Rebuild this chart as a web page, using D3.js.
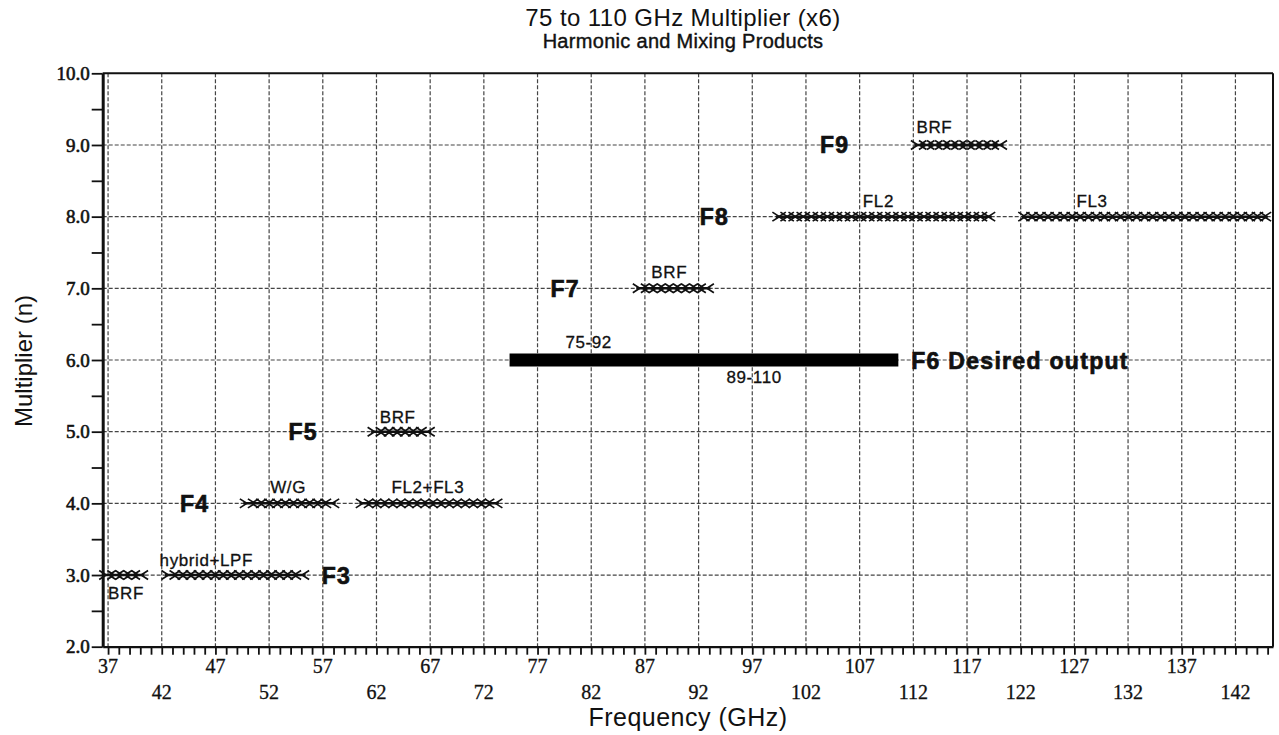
<!DOCTYPE html>
<html>
<head>
<meta charset="utf-8">
<script src="https://cdn.jsdelivr.net/npm/d3@7"></script>
<style>
  body { margin: 0; background: #fff; }
  text { fill: #111; }
  .sans { font-family: "Liberation Sans", Arial, sans-serif; }
  .serif { font-family: "Liberation Serif", "Times New Roman", serif; }
</style>
</head>
<body>
<svg id="chart" width="1279" height="735"></svg>
<script>
// filter bands for each harmonic n (GHz)
var bandN     = [3, 3, 4, 4, 5, 7, 8, 8, 9];
var bandStart = [36.5, 42.3, 49.6, 60.4, 61.5, 86.2, 99.2, 122.1, 112.1];
var bandEnd   = [40.4, 55.4, 58.2, 73.4, 67.1, 93.1, 119.3, 145.0, 120.4];

// desired output band
var outputN = 6;
var outputRange = [75, 110];

// harmonic names
var harmonicNames = ['F3', 'F4', 'F5', 'F6 Desired output', 'F7', 'F8', 'F9'];
var harmonicN     = [3, 4, 5, 6, 7, 8, 9];

// small notes next to the bands
var noteText = ['BRF', 'hybrid+LPF', 'W/G', 'FL2+FL3', 'BRF', 'BRF', 'FL2', 'FL3', 'BRF', '75-92', '89-110'];
var noteN    = [3, 3, 4, 4, 5, 7, 8, 8, 9, 6, 6];

var xTickLabels = [37, 42, 47, 52, 57, 62, 67, 72, 77, 82, 87, 92, 97, 102, 107, 112, 117, 122, 127, 132, 137, 142];
var yTickLabels = [2, 3, 4, 5, 6, 7, 8, 9, 10];

// layout of the annotations (frequency where text starts, pixel offset from the row)
var harmonicAt = [56.9, 43.7, 53.8, 111.8, 78.2, 92.1, 103.3];
var noteAt     = [37.0, 41.8, 52.1, 63.4, 62.3, 87.6, 107.3, 127.2, 112.3, 79.6, 94.6];
var noteDy     = [24, -9, -10, -10, -9, -10, -10, -10, -12, -12, 23];

DrawChart();

function DrawChart() {
  var svg = d3.select('#chart');
  var left = 102.7, right = 1273, top = 73.3, bottom = 646.7;

  var x = d3.scaleLinear().domain([36.5, 145.5]).range([left, right]);
  var y = d3.scaleLinear().domain([2, 10]).range([bottom, top]);

  // titles
  svg.append('text').attr('class', 'sans')
    .attr('x', 683).attr('y', 26)
    .attr('text-anchor', 'middle')
    .style('font-size', '24px')
    .style('letter-spacing', '0.4px')
    .text('75 to 110 GHz Multiplier (x6)');
  svg.append('text').attr('class', 'sans')
    .attr('x', 683).attr('y', 48)
    .attr('text-anchor', 'middle')
    .style('font-size', '20px')
    .style('letter-spacing', '0.3px')
    .style('stroke', '#111').style('stroke-width', '0.4')
    .text('Harmonic and Mixing Products');

  // grid
  var grid = svg.append('g')
    .attr('stroke', '#444')
    .attr('stroke-width', 1.2)
    .attr('stroke-dasharray', '4,2');
  grid.selectAll('.vg').data(xTickLabels).enter().append('line')
    .attr('x1', function (d) { return x(d); })
    .attr('x2', function (d) { return x(d); })
    .attr('y1', top).attr('y2', bottom);
  grid.selectAll('.hg').data(yTickLabels.slice(1, -1)).enter().append('line')
    .attr('x1', left).attr('x2', right)
    .attr('y1', function (d) { return y(d); })
    .attr('y2', function (d) { return y(d); });

  // frame top / right
  svg.append('line').attr('x1', left).attr('x2', right).attr('y1', top).attr('y2', top)
    .attr('stroke', '#111').attr('stroke-width', 2);
  svg.append('line').attr('x1', right).attr('x2', right).attr('y1', top).attr('y2', bottom)
    .attr('stroke', '#111').attr('stroke-width', 2);

  // x axis, 1 GHz ticks
  var xAxis = svg.append('g')
    .attr('transform', 'translate(0,' + bottom + ')')
    .call(d3.axisBottom(x).tickValues(d3.range(37, 146)).tickSize(8).tickSizeOuter(0).tickFormat(''));
  xAxis.select('.domain').attr('stroke', '#111').attr('stroke-width', 2.2);
  xAxis.selectAll('.tick line').attr('stroke', '#111').attr('stroke-width', 1.8);

  svg.selectAll('.xl').data(xTickLabels).enter().append('text')
    .attr('class', 'serif')
    .attr('x', function (d) { return x(d); })
    .attr('y', function (d, i) { return i % 2 === 0 ? 673 : 699; })
    .attr('text-anchor', 'middle')
    .style('font-size', '20px')
    .style('stroke', '#111').style('stroke-width', '0.3')
    .text(function (d) { return d; });

  // y axis, 0.5 ticks
  var yAxis = svg.append('g')
    .attr('transform', 'translate(' + left + ',0)')
    .call(d3.axisLeft(y).tickValues(d3.range(2, 10.01, 0.5)).tickSize(11).tickSizeOuter(0).tickPadding(2)
      .tickFormat(function (d) { return d % 1 === 0 ? d3.format('.1f')(d) : ''; }));
  yAxis.select('.domain').attr('stroke', '#111').attr('stroke-width', 3);
  yAxis.selectAll('.tick line').attr('stroke', '#111').attr('stroke-width', 1.8);
  yAxis.selectAll('.tick text')
    .attr('class', 'serif')
    .style('font-size', '19px')
    .style('stroke', '#111').style('stroke-width', '0.6')
    .attr('fill', '#111');

  // axis titles
  svg.append('text').attr('class', 'sans')
    .attr('x', 688).attr('y', 726)
    .attr('text-anchor', 'middle')
    .style('font-size', '25px')
    .style('letter-spacing', '0.5px')
    .text('Frequency (GHz)');
  svg.append('text').attr('class', 'sans')
    .attr('transform', 'translate(32,' + (y(6) + 1) + ') rotate(-90)')
    .attr('text-anchor', 'middle')
    .style('font-size', '24px')
    .text('Multiplier (n)');

  // desired output bar
  svg.append('line')
    .attr('x1', x(outputRange[0])).attr('x2', x(outputRange[1]))
    .attr('y1', y(outputN)).attr('y2', y(outputN))
    .attr('stroke', '#000').attr('stroke-width', 13)
    .attr('stroke-linecap', 'square');

  // bands drawn as strings of > and < markers
  var step = 0.75;
  var bands = bandN.map(function (n, i) { return { n: n, a: bandStart[i], b: bandEnd[i] }; });
  var bandG = svg.append('g');
  bands.forEach(function (bd) {
    var g = bandG.append('g');
    var yy = y(bd.n);
    g.append('line')
      .attr('x1', x(bd.a)).attr('x2', x(bd.b))
      .attr('y1', yy).attr('y2', yy)
      .attr('stroke', '#111').attr('stroke-width', 2.5);
    var rightPts = d3.range(bd.a, bd.b - step / 2, step);
    var leftPts = d3.range(bd.b, bd.a + step / 2, -step);
    g.selectAll('.r').data(rightPts).enter().append('path')
      .attr('d', function (d) { var px = x(d); return 'M' + (px - 3.5) + ',' + (yy - 4.5) + 'L' + (px + 3.5) + ',' + yy + 'L' + (px - 3.5) + ',' + (yy + 4.5); })
      .attr('fill', 'none').attr('stroke', '#111').attr('stroke-width', 1.7);
    g.selectAll('.l').data(leftPts).enter().append('path')
      .attr('d', function (d) { var px = x(d); return 'M' + (px + 3.5) + ',' + (yy - 4.5) + 'L' + (px - 3.5) + ',' + yy + 'L' + (px + 3.5) + ',' + (yy + 4.5); })
      .attr('fill', 'none').attr('stroke', '#111').attr('stroke-width', 1.7);
  });

  // notes
  svg.selectAll('.note').data(noteText).enter().append('text')
    .attr('class', 'sans')
    .attr('x', function (d, i) { return x(noteAt[i]); })
    .attr('y', function (d, i) { return y(noteN[i]) + noteDy[i]; })
    .style('font-size', '17px')
    .style('letter-spacing', '0.6px')
    .style('stroke', '#111').style('stroke-width', '0.3')
    .text(function (d) { return d; });

  // harmonic names
  svg.selectAll('.harm').data(harmonicNames).enter().append('text')
    .attr('class', 'sans')
    .attr('x', function (d, i) { return x(harmonicAt[i]); })
    .attr('y', function (d, i) { return y(harmonicN[i]) + 8.5; })
    .style('font-size', '23px')
    .style('font-weight', 'bold')
    .style('letter-spacing', '1.3px')
    .style('stroke', '#111').style('stroke-width', '0.7')
    .text(function (d) { return d; });
}
</script>
</body>
</html>
